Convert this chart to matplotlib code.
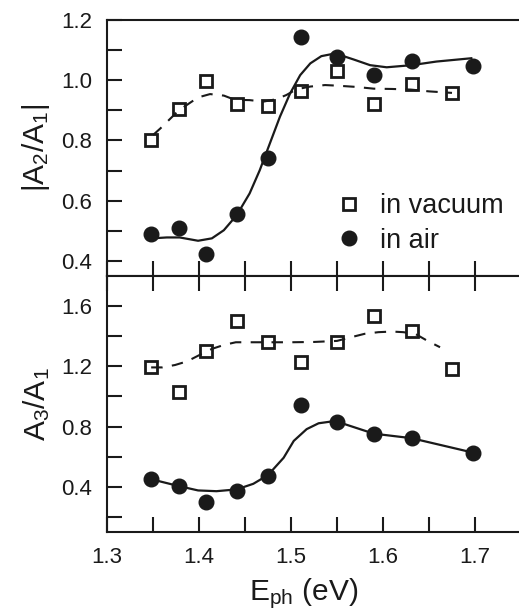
import matplotlib
matplotlib.use("Agg")
import matplotlib.pyplot as plt

plt.rcParams['font.family'] = ['Liberation Sans', 'DejaVu Sans']
plt.rcParams['mathtext.fontset'] = 'custom'
plt.rcParams['mathtext.rm'] = 'Liberation Sans'
plt.rcParams['mathtext.default'] = 'regular'

# measured points
e_vac = [1.348, 1.378, 1.408, 1.441, 1.475, 1.511, 1.550, 1.590, 1.631, 1.675]
e_air = [1.348, 1.378, 1.408, 1.441, 1.475, 1.511, 1.550, 1.590, 1.631, 1.698]
a21_vac = [0.800, 0.905, 0.998, 0.920, 0.914, 0.965, 1.032, 0.920, 0.986, 0.958]
a21_air = [0.491, 0.508, 0.422, 0.555, 0.741, 1.143, 1.078, 1.017, 1.065, 1.048]
a31_vac = [1.193, 1.033, 1.305, 1.500, 1.360, 1.227, 1.360, 1.533, 1.433, 1.183]
a31_air = [0.453, 0.405, 0.298, 0.371, 0.471, 0.945, 0.831, 0.753, 0.727, 0.627]

# guide curves
fit21_air_e = [1.349, 1.365, 1.379, 1.399, 1.414, 1.427, 1.441, 1.455, 1.466, 1.477, 1.488,
               1.499, 1.510, 1.521, 1.533, 1.548, 1.568, 1.586, 1.604, 1.631, 1.658, 1.696]
fit21_air = [0.475, 0.478, 0.478, 0.467, 0.475, 0.502, 0.552, 0.624, 0.701, 0.790, 0.879,
             0.956, 1.017, 1.056, 1.080, 1.089, 1.069, 1.050, 1.043, 1.050, 1.062, 1.073]
fit21_vac_e = [1.350, 1.358, 1.378, 1.399, 1.412, 1.427, 1.439, 1.455, 1.470, 1.484, 1.495,
               1.506, 1.521, 1.537, 1.550, 1.570, 1.590, 1.610, 1.630, 1.650, 1.675]
fit21_vac = [0.818, 0.840, 0.900, 0.943, 0.954, 0.949, 0.935, 0.934, 0.929, 0.937, 0.951,
             0.970, 0.979, 0.984, 0.982, 0.978, 0.972, 0.971, 0.969, 0.963, 0.958]
fit31_air_e = [1.349, 1.378, 1.399, 1.419, 1.441, 1.459, 1.475, 1.492, 1.503, 1.517, 1.530,
               1.543, 1.550, 1.590, 1.631, 1.698]
fit31_air = [0.449, 0.405, 0.376, 0.371, 0.383, 0.420, 0.478, 0.593, 0.705, 0.783, 0.822,
             0.833, 0.833, 0.753, 0.723, 0.627]
fit31_vac_e = [1.348, 1.360, 1.374, 1.387, 1.403, 1.414, 1.427, 1.440, 1.455, 1.475, 1.500,
               1.525, 1.550, 1.565, 1.580, 1.595, 1.610, 1.622, 1.635, 1.649, 1.662]
fit31_vac = [1.193, 1.193, 1.209, 1.233, 1.283, 1.316, 1.342, 1.360, 1.360, 1.360, 1.360,
             1.362, 1.369, 1.393, 1.416, 1.427, 1.431, 1.427, 1.416, 1.367, 1.327]

col = '#1a1a1a'
W, H = 519, 614
fig = plt.figure(figsize=(W / 100, H / 100), dpi=100)
left, width = 107 / W, 414 / W
ax1 = fig.add_axes([left, 1 - 276 / H, width, 256 / H])
ax2 = fig.add_axes([left, 1 - 532 / H, width, 256 / H])

dash = (0, (5.5, 4.5))
sq = dict(marker='s', ms=8, mew=2, mfc='white', mec=col, ls='none', zorder=2)
ci = dict(marker='o', ms=10.5, mew=1, mfc=col, mec=col, ls='none', zorder=2)

ax1.plot(e_vac, a21_vac, label='in vacuum', **sq)
ax1.plot(e_air, a21_air, label='in air', **ci)
ax1.plot(fit21_vac_e, fit21_vac, color=col, lw=1.5, ls=dash, zorder=3)
ax1.plot(fit21_air_e, fit21_air, color=col, lw=1.6, zorder=3)

ax2.plot(e_vac, a31_vac, **sq)
ax2.plot(e_air, a31_air, **ci)
ax2.plot(fit31_vac_e, fit31_vac, color=col, lw=1.5, ls=dash, zorder=3)
ax2.plot(fit31_air_e, fit31_air, color=col, lw=1.6, zorder=3)

ax1.set_ylim(0.35, 1.2)
ax2.set_ylim(0.1, 1.8)
ax1.set_yticks([0.4, 0.6, 0.8, 1.0, 1.2])
ax1.set_yticks([0.5, 0.7, 0.9, 1.1], minor=True)
ax2.set_yticks([0.4, 0.8, 1.2, 1.6])
ax2.set_yticks([0.2, 0.6, 1.0, 1.4], minor=True)

for ax in (ax1, ax2):
    ax.set_xlim(1.3, 1.75)
    ax.set_xticks([1.3, 1.4, 1.5, 1.6, 1.7])
    ax.set_xticks([1.35, 1.45, 1.55, 1.65], minor=True)
    ax.spines['right'].set_visible(False)
    for s in ('left', 'top', 'bottom'):
        ax.spines[s].set_linewidth(1.5)
        ax.spines[s].set_color(col)
    ax.tick_params(which='both', direction='in', length=11, width=1.5, color=col,
                   labelsize=16, labelcolor=col)
    ax.tick_params(axis='y', pad=10.5)
    ax.tick_params(axis='x', pad=11)

ax1.yaxis.set_major_formatter(matplotlib.ticker.FormatStrFormatter('%.1f'))
ax2.yaxis.set_major_formatter(matplotlib.ticker.FormatStrFormatter('%.1f'))
ax1.tick_params(axis='x', which='both', labelbottom=False)
ax2.tick_params(axis='x', which='both', top=True)

ax1.set_ylabel('|A$_2$/A$_1$|', fontsize=21.5, color=col)
ax2.set_ylabel('A$_3$/A$_1$', fontsize=21.5, color=col)
ax1.yaxis.set_label_coords((52 - 107) / 414, 0.5)
ax2.yaxis.set_label_coords((52 - 107) / 414, 0.5)
fig.text(304 / W, 1 - 600 / H, 'E$_{ph}$ (eV)', fontsize=21.5, color=col,
         ha='center', va='baseline')

ax1.legend(loc='upper left', bbox_to_anchor=((338 - 107) / 414, (276 - 193) / 256),
           frameon=False, fontsize=19.5, handlelength=0.8, handletextpad=0.74,
           labelspacing=0.32, borderpad=0, borderaxespad=0, labelcolor=col)

fig.savefig('out.png', dpi=100)
